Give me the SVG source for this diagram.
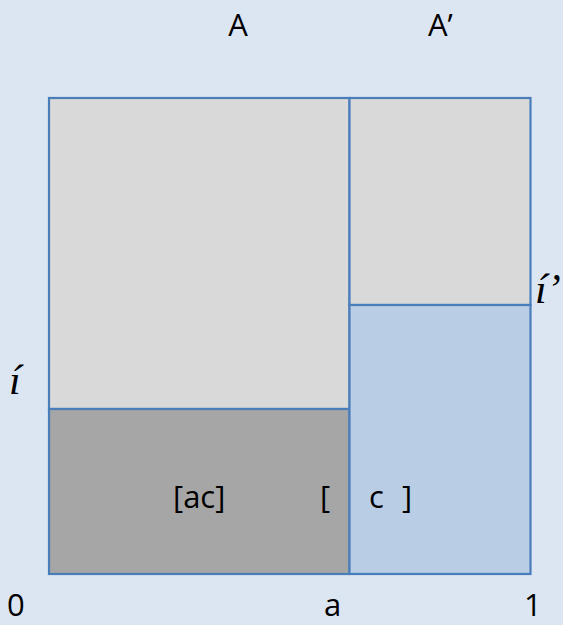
<svg xmlns="http://www.w3.org/2000/svg" width="563" height="625" viewBox="0 0 563 625">
<style>
.box{stroke:#4a7ebb;stroke-width:2.2}
.t{font-family:"Open Sans","Liberation Sans",sans-serif;font-size:31px;fill:#000}
.m{font-family:"Liberation Serif",serif;font-style:italic;font-size:42px;fill:#000}
</style>
<rect width="563" height="625" fill="#dce6f2"/>
<g id="A-upper"><rect class="box" x="49" y="98" width="300.5" height="311" fill="#d9d9d9"/></g>
<g id="A-lower"><rect class="box" x="49" y="409" width="300.5" height="165" fill="#a6a6a6"/></g>
<g id="Aprime-upper"><rect class="box" x="349.5" y="98" width="181" height="207" fill="#d9d9d9"/></g>
<g id="Aprime-lower"><rect class="box" x="349.5" y="305" width="181" height="269" fill="#b9cde5"/></g>
<g id="labels">
<text class="t" x="238" y="36" text-anchor="middle">A</text>
<text class="t" x="428" y="36">A’</text>
<text class="m" x="9" y="394">í</text>
<text class="m" x="535" y="303">í’</text>
<text class="t" x="173" y="508">[ac]</text>
<text class="t" x="320" y="508">[</text>
<text class="t" x="369" y="508">c</text>
<text class="t" x="402" y="508">]</text>
<text class="t" x="7" y="616">0</text>
<text class="t" x="324" y="616">a</text>
<text class="t" x="524" y="616">1</text>
</g>
<g id="connectors"/>
</svg>
